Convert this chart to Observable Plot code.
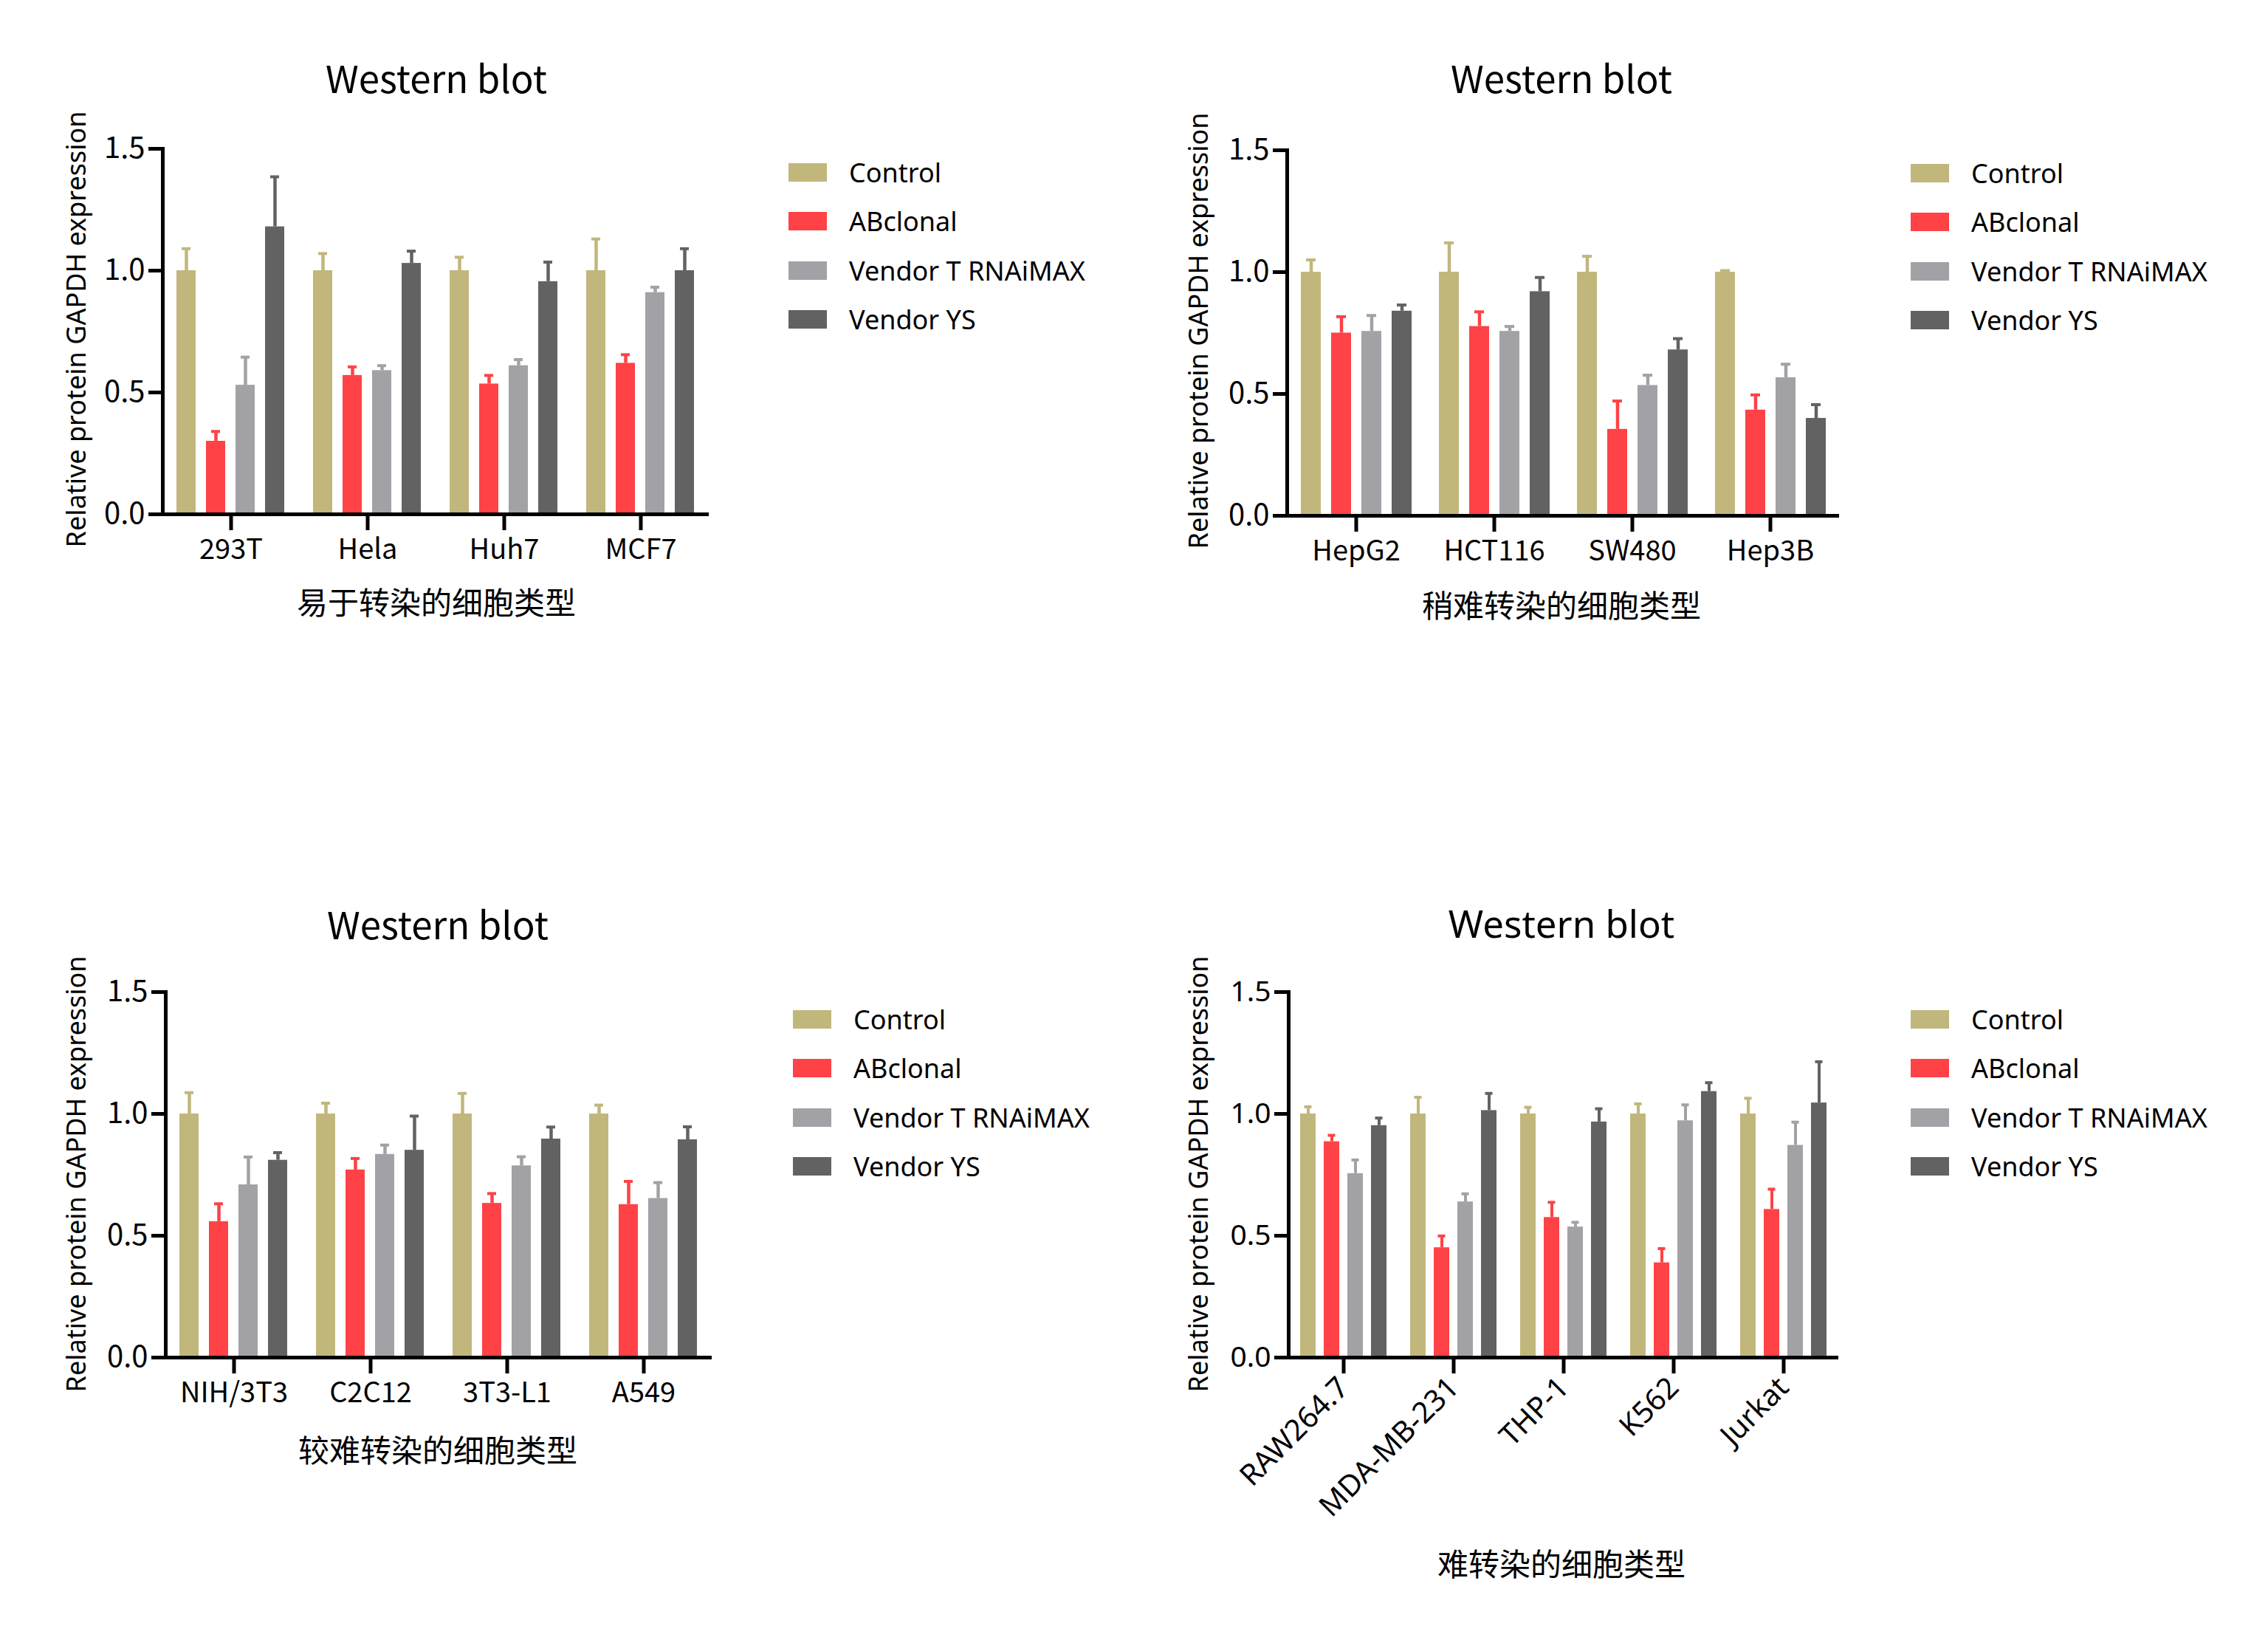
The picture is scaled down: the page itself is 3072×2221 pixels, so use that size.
<!DOCTYPE html>
<html>
<head>
<meta charset="utf-8">
<script src="https://cdn.jsdelivr.net/npm/d3@7"></script>
<script src="https://cdn.jsdelivr.net/npm/@observablehq/plot@0.6"></script>
<style>
  html, body { margin: 0; padding: 0; background: #fff; }
  #page { position: relative; width: 3072px; height: 2221px; background: #fff; overflow: hidden; }
  .abs { position: absolute; white-space: nowrap; color: #000; }
  .center { transform: translate(-50%, -50%); }
  .ylab { transform: translate(-50%, -50%) rotate(-90deg); font-family: "Noto Sans", sans-serif; font-size: 36px; }
  .title { font-size: 51px; font-weight: 400; }
  .xlab { font-family: "Noto Sans CJK SC", sans-serif; font-size: 42px; }
  .legend-row { position: absolute; display: flex; align-items: center; font-family: "Noto Sans", sans-serif; font-size: 36px; }
  .sw { width: 52px; height: 25px; margin-right: 30px; }
</style>
</head>
<body>
<div id="page"></div>
<script>
// ---------- data ----------
const seriesNames = ["Control", "ABclonal", "Vendor T RNAiMAX", "Vendor YS"];
const seriesColors = ["#c1b77c", "#fe4246", "#a2a2a6", "#626262"];

// Panel 1: 易于转染的细胞类型
const cells1 = ["293T", "Hela", "Huh7", "MCF7"];
const control1 = [1.0, 1.0, 1.0, 1.0];
const controlErr1 = [0.09, 0.07, 0.055, 0.13];
const abclonal1 = [0.30, 0.57, 0.535, 0.62];
const abclonalErr1 = [0.04, 0.035, 0.035, 0.035];
const vendorT1 = [0.53, 0.59, 0.61, 0.91];
const vendorTErr1 = [0.115, 0.02, 0.025, 0.022];
const vendorYS1 = [1.18, 1.03, 0.955, 1.0];
const vendorYSErr1 = [0.205, 0.05, 0.08, 0.09];

// Panel 2: 稍难转染的细胞类型
const cells2 = ["HepG2", "HCT116", "SW480", "Hep3B"];
const control2 = [1.0, 1.0, 1.0, 1.0];
const controlErr2 = [0.05, 0.12, 0.065, 0.006];
const abclonal2 = [0.75, 0.777, 0.355, 0.434];
const abclonalErr2 = [0.067, 0.06, 0.116, 0.062];
const vendorT2 = [0.757, 0.757, 0.535, 0.567];
const vendorTErr2 = [0.065, 0.02, 0.042, 0.055];
const vendorYS2 = [0.84, 0.92, 0.681, 0.40];
const vendorYSErr2 = [0.025, 0.058, 0.046, 0.056];

// Panel 3: 较难转染的细胞类型
const cells3 = ["NIH/3T3", "C2C12", "3T3-L1", "A549"];
const control3 = [1.0, 1.0, 1.0, 1.0];
const controlErr3 = [0.087, 0.044, 0.084, 0.036];
const abclonal3 = [0.558, 0.770, 0.633, 0.628];
const abclonalErr3 = [0.073, 0.047, 0.04, 0.095];
const vendorT3 = [0.709, 0.834, 0.787, 0.653];
const vendorTErr3 = [0.114, 0.038, 0.037, 0.065];
const vendorYS3 = [0.810, 0.851, 0.897, 0.894];
const vendorYSErr3 = [0.031, 0.14, 0.049, 0.053];

// Panel 4: 难转染的细胞类型
const cells4 = ["RAW264.7", "MDA-MB-231", "THP-1", "K562", "Jurkat"];
const control4 = [1.0, 1.0, 1.0, 1.0, 1.0];
const controlErr4 = [0.029, 0.068, 0.027, 0.041, 0.064];
const abclonal4 = [0.886, 0.451, 0.575, 0.389, 0.608];
const abclonalErr4 = [0.026, 0.048, 0.062, 0.058, 0.083];
const vendorT4 = [0.755, 0.639, 0.536, 0.972, 0.871];
const vendorTErr4 = [0.056, 0.033, 0.019, 0.065, 0.095];
const vendorYS4 = [0.952, 1.014, 0.967, 1.092, 1.045];
const vendorYSErr4 = [0.031, 0.07, 0.054, 0.036, 0.169];

const yTicks = [0, 0.5, 1.0, 1.5];
const titleText = "Western blot";
const yLabelText = "Relative protein GAPDH expression";
const xLabels = ["易于转染的细胞类型", "稍难转染的细胞类型", "较难转染的细胞类型", "难转染的细胞类型"];

// ---------- helpers ----------
function rowsFor(cells, vals, errs) {
  const rows = [];
  cells.forEach((c, i) => seriesNames.forEach((s, j) => {
    rows.push({cell: c, series: s, value: vals[j][i], upper: vals[j][i] + errs[j][i]});
  }));
  return rows;
}

const page = document.getElementById("page");

function addDiv(cls, text, css) {
  const d = document.createElement("div");
  d.className = "abs " + cls;
  d.textContent = text;
  Object.assign(d.style, css);
  page.appendChild(d);
  return d;
}

function panel(cfg) {
  const rows = rowsFor(cfg.cells, cfg.vals, cfg.errs);
  const chart = Plot.plot({
    width: cfg.width, height: cfg.height,
    marginLeft: 120, marginRight: 20, marginTop: 20, marginBottom: cfg.marginBottom,
    style: {fontFamily: cfg.font, background: "transparent", overflow: "visible", color: "#000"},
    fx: {domain: cfg.cells, paddingInner: 0, paddingOuter: 0, axis: null, label: null},
    x: {domain: seriesNames, paddingInner: cfg.pi, paddingOuter: cfg.po, axis: null},
    y: {domain: [0, 1.5], axis: null},
    color: {domain: seriesNames, range: seriesColors},
    marks: [
      Plot.barY(rows, {fx: "cell", x: "series", y: "value", fill: "series"}),
      Plot.ruleX(rows, {fx: "cell", x: "series", y1: "value", y2: "upper", stroke: "series", strokeWidth: cfg.stem}),
      Plot.tickY(rows, {fx: "cell", x: "series", y: "upper", stroke: "series", strokeWidth: 4, insetLeft: cfg.capInset, insetRight: cfg.capInset}),
      Plot.ruleY([0], {strokeWidth: 5, stroke: "#000"}),
      Plot.frame({anchor: "left", facetAnchor: "left", strokeWidth: 5, stroke: "#000"}),
      Plot.axisY({ticks: yTicks, tickFormat: d3.format(".1f"), tickSize: 19, tickPadding: 5,
                  strokeWidth: 5, fontSize: cfg.yTickSize, label: null}),
      Plot.axisFx({anchor: "bottom", tickSize: 22, strokeWidth: 5, fontSize: cfg.xTickSize,
                   tickPadding: cfg.xTickPadding, tickRotate: cfg.rotate, label: null})
    ]
  });
  chart.style.position = "absolute";
  chart.style.left = cfg.left + "px";
  chart.style.top = cfg.top + "px";
  page.appendChild(chart);

  // Title
  addDiv("center title", titleText, {left: cfg.cx + "px", top: cfg.titleY + "px", fontFamily: cfg.titleFont});
  // Y label
  addDiv("ylab", yLabelText, {left: cfg.ylabX + "px", top: cfg.ylabY + "px"});
  // X label
  addDiv("center xlab", cfg.xLabel, {left: cfg.cx + "px", top: cfg.xlabY + "px"});
  // Legend
  seriesNames.forEach((s, j) => {
    const r = document.createElement("div");
    r.className = "legend-row";
    r.style.left = cfg.legX + "px";
    r.style.top = (cfg.legY + j * 66.5 - 25) + "px";
    r.style.height = "50px";
    const sw = document.createElement("div");
    sw.className = "sw";
    sw.style.background = seriesColors[j];
    const t = document.createElement("span");
    t.textContent = s;
    r.appendChild(sw); r.appendChild(t);
    page.appendChild(r);
  });
}

const cjk = "'Noto Sans CJK SC', 'Noto Sans', sans-serif";
const latin = "'Noto Sans', sans-serif";

panel({cells: cells1,
  vals: [control1, abclonal1, vendorT1, vendorYS1],
  errs: [controlErr1, abclonalErr1, vendorTErr1, vendorYSErr1],
  left: 99, top: 181, width: 882, height: 615, marginBottom: 100,
  pi: 0.345, po: 0.44, stem: 4.5, capInset: 7, font: cjk, titleFont: cjk,
  yTickSize: 40, xTickSize: 38, xTickPadding: 12, rotate: 0,
  cx: 591, titleY: 104, ylabX: 102, ylabY: 446, xlabY: 813, xLabel: xLabels[0],
  legX: 1068, legY: 233});

panel({cells: cells2,
  vals: [control2, abclonal2, vendorT2, vendorYS2],
  errs: [controlErr2, abclonalErr2, vendorTErr2, vendorYSErr2],
  left: 1623, top: 183, width: 888, height: 615, marginBottom: 100,
  pi: 0.345, po: 0.44, stem: 4.5, capInset: 7, font: cjk, titleFont: cjk,
  yTickSize: 40, xTickSize: 38, xTickPadding: 12, rotate: 0,
  cx: 2115, titleY: 104, ylabX: 1622, ylabY: 448, xlabY: 817, xLabel: xLabels[1],
  legX: 2588, legY: 234});

panel({cells: cells3,
  vals: [control3, abclonal3, vendorT3, vendorYS3],
  errs: [controlErr3, abclonalErr3, vendorTErr3, vendorYSErr3],
  left: 102, top: 1323, width: 883, height: 615, marginBottom: 100,
  pi: 0.345, po: 0.44, stem: 4.5, capInset: 7, font: cjk, titleFont: cjk,
  yTickSize: 40, xTickSize: 38, xTickPadding: 12, rotate: 0,
  cx: 593, titleY: 1250, ylabX: 102, ylabY: 1590, xlabY: 1961, xLabel: xLabels[2],
  legX: 1074, legY: 1380});

panel({cells: cells4,
  vals: [control4, abclonal4, vendorT4, vendorYS4],
  errs: [controlErr4, abclonalErr4, vendorTErr4, vendorYSErr4],
  left: 1623, top: 1323, width: 888, height: 715, marginBottom: 200,
  pi: 0.35, po: 0.5, stem: 4, capInset: 5.5, font: latin, titleFont: latin,
  yTickSize: 39, xTickSize: 40, xTickPadding: 12, rotate: -45,
  cx: 2115, titleY: 1250, ylabX: 1622, ylabY: 1590, xlabY: 2115, xLabel: xLabels[3],
  legX: 2588, legY: 1380});
</script>
</body>
</html>
